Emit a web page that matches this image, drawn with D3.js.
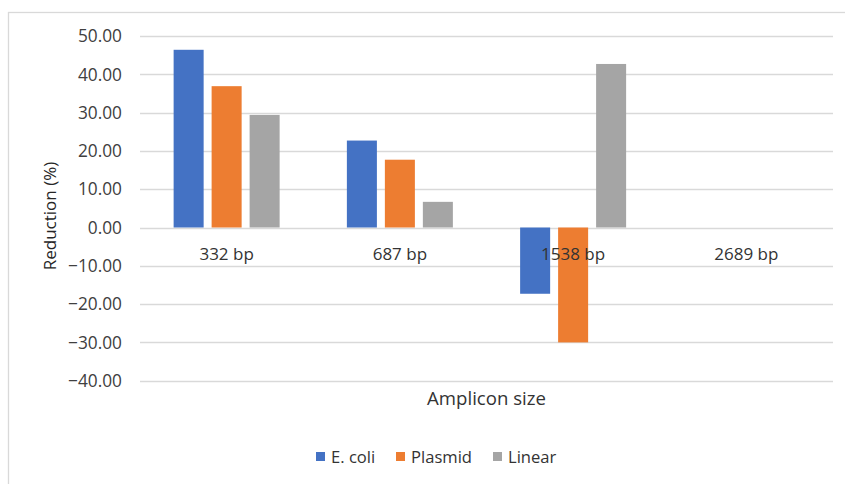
<!DOCTYPE html>
<html>
<head>
<meta charset="utf-8">
<script src="https://cdn.jsdelivr.net/npm/d3@7"></script>
<style>
  body { margin: 0; background: #fff; }
  text { font-family: "Open Sans", sans-serif; }
</style>
</head>
<body>
<div id="chart"></div>
<script>
var categories = ["332 bp", "687 bp", "1538 bp", "2689 bp"]
var seriesNames = ["E. coli", "Plasmid", "Linear"]
var ecoli = [46.4, 22.7, -17.3, null]
var plasmid = [36.9, 17.7, -30.0, null]
var linear = [29.4, 6.7, 42.7, null]
var yTicks = [50, 40, 30, 20, 10, 0, -10, -20, -30, -40]

var colors = ["#4472C4", "#ED7D31", "#A5A5A5"]
var seriesValues = [ecoli, plasmid, linear]

var width = 845, height = 484
var plot = {left: 140, right: 833, top: 36, bottom: 380.7}

var svg = d3.select("#chart").append("svg")
  .attr("width", width)
  .attr("height", height)

// outer chart frame (cut off at the right and bottom in the original)
svg.append("rect")
  .attr("x", 8.5).attr("y", 12.5)
  .attr("width", 900).attr("height", 600)
  .attr("fill", "none")
  .attr("stroke", "#D9D9D9")
  .attr("stroke-width", 1.3)

var y = d3.scaleLinear()
  .domain([-40, 50])
  .range([plot.bottom, plot.top])

var x0 = d3.scaleBand()
  .domain(categories)
  .range([plot.left, plot.right])

var groupW = 106
var x1 = d3.scaleBand()
  .domain(seriesNames)
  .range([0, groupW])
  .paddingInner(0.21)

// gridlines
svg.append("g").selectAll("line")
  .data(yTicks)
  .enter().append("line")
  .attr("x1", plot.left).attr("x2", plot.right)
  .attr("y1", d => Math.round(y(d)) + 0.5)
  .attr("y2", d => Math.round(y(d)) + 0.5)
  .attr("stroke", "#D9D9D9")
  .attr("stroke-width", 1.3)

// y tick labels
svg.append("g").selectAll("text")
  .data(yTicks)
  .enter().append("text")
  .attr("x", 122)
  .attr("y", d => y(d))
  .attr("dy", "0.36em")
  .attr("text-anchor", "end")
  .attr("fill", "#404040")
  .style("font-size", "17.3px")
  .text(d => d3.format(".2f")(d))

// bars
var rows = []
categories.forEach(function(c, i) {
  seriesNames.forEach(function(s, j) {
    if (seriesValues[j][i] != null) rows.push({cat: c, ser: s, value: seriesValues[j][i], color: colors[j]})
  })
})

svg.append("g").selectAll("rect")
  .data(rows)
  .enter().append("rect")
  .attr("x", d => x0(d.cat) + (x0.bandwidth() - groupW) / 2 + x1(d.ser))
  .attr("width", x1.bandwidth())
  .attr("y", d => y(Math.max(0, d.value)))
  .attr("height", d => Math.abs(y(d.value) - y(0)))
  .attr("fill", d => d.color)

// category labels near the zero line
svg.append("g").selectAll("text")
  .data(categories)
  .enter().append("text")
  .attr("x", d => x0(d) + x0.bandwidth() / 2)
  .attr("y", y(0) + 32)
  .attr("text-anchor", "middle")
  .attr("fill", "#333333")
  .style("font-size", "17px")
  .text(d => d)

// axis titles
svg.append("text")
  .attr("x", (plot.left + plot.right) / 2)
  .attr("y", 405)
  .attr("text-anchor", "middle")
  .attr("fill", "#333333")
  .style("font-size", "18.6px")
  .text("Amplicon size")

svg.append("text")
  .attr("transform", "translate(56,216) rotate(-90)")
  .attr("text-anchor", "middle")
  .attr("fill", "#262626")
  .style("font-size", "17px")
  .text("Reduction (%)")

// legend
var legendX = [316, 396, 493]
var legend = svg.append("g").selectAll("g")
  .data(seriesNames)
  .enter().append("g")
  .attr("transform", (d, i) => "translate(" + legendX[i] + ",452)")

legend.append("rect")
  .attr("width", 9).attr("height", 9)
  .attr("fill", (d, i) => colors[i])

legend.append("text")
  .attr("x", 15)
  .attr("y", 10.5)
  .attr("fill", "#333333")
  .style("font-size", "16.6px")
  .text(d => d)
</script>
</body>
</html>
